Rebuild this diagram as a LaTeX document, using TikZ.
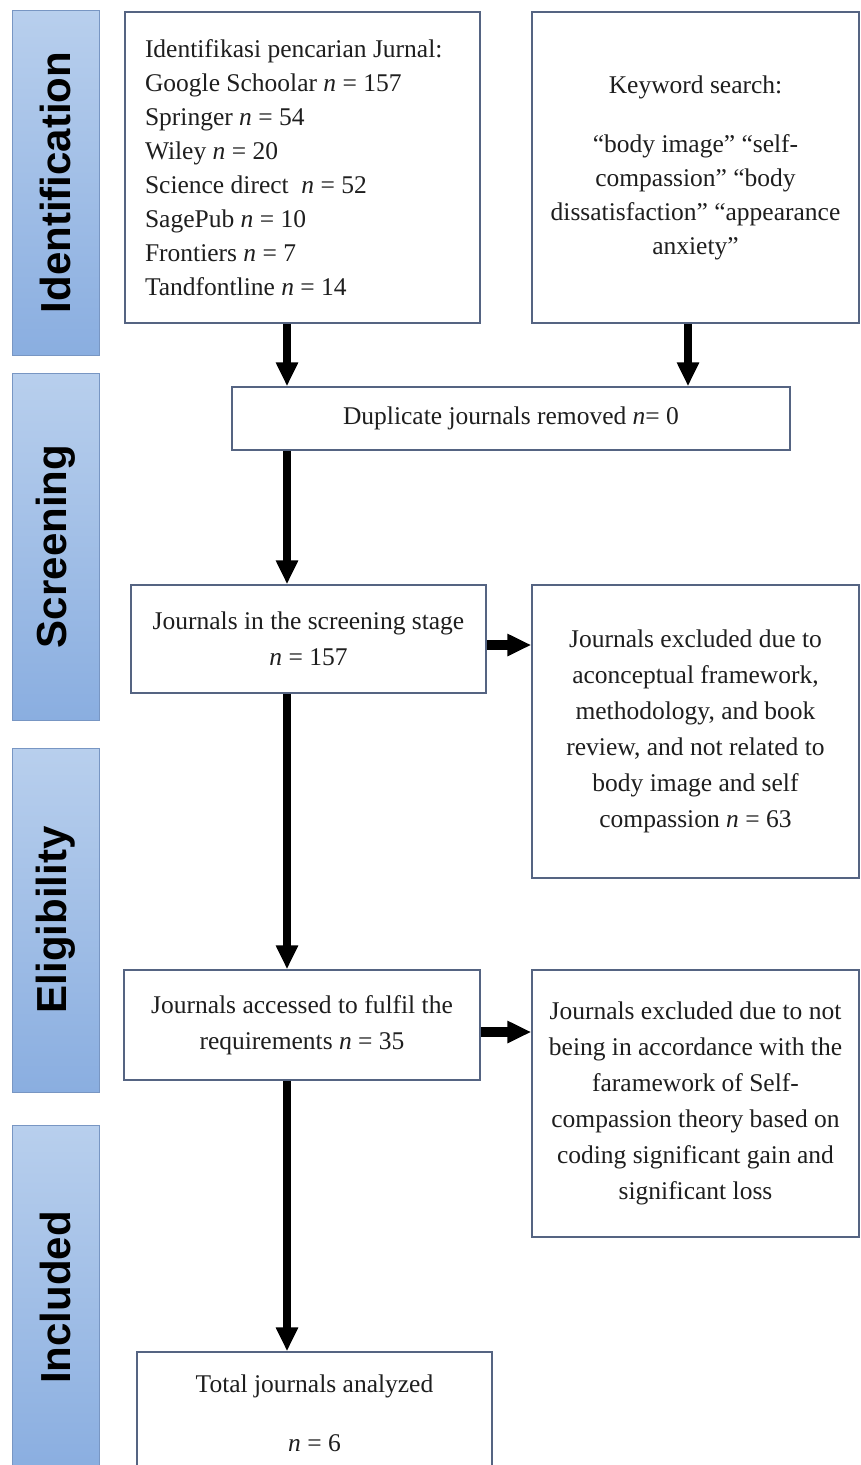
\documentclass[tikz,border=0pt]{standalone}
\usepackage{fontspec}
\setmainfont{Liberation Serif}
\newfontfamily\barfont{Liberation Sans}
\usetikzlibrary{positioning, arrows.meta}
\definecolor{prisline}{RGB}{85,100,130}
\definecolor{bartop}{RGB}{184,207,237}
\definecolor{barbot}{RGB}{138,174,224}
\definecolor{barline}{RGB}{120,150,195}
\definecolor{txtgrey}{RGB}{30,30,30}
\tikzset{
    phase/.style={rectangle, rotate=90, draw=barline, line width=0.8pt, top color=bartop, bottom color=barbot, minimum width=345pt, minimum height=87pt, inner sep=0pt, font=\barfont\bfseries\fontsize{42}{48}\selectfont, text=black},
    box/.style={rectangle, draw=prisline, line width=1.5pt, fill=white, align=center, inner sep=0pt, font=\fontsize{25.5}{36}\selectfont, text=txtgrey},
    arr/.style={-{Triangle[length=24pt, width=21pt]}, line width=8pt, color=black}
}
\begin{document}
\begin{tikzpicture}[x=1pt, y=-1pt]
        \clip (0,0) rectangle (861,1465);
        \fill[white] (0,0) rectangle (861,1465);

        % Phase bars
        \node[phase] (idbar) at (55.5,182.5) {Identification};
        \node[phase, minimum width=347pt] (scrbar) at (55.5,546.5) {Screening};
        \node[phase, minimum width=344pt] (elibar) at (55.5,920) {Eligibility};
        \node[phase] (incbar) at (55.5,1297.5) {Included};

        % Identification
        \node[box, align=flush left, text width=315pt, inner xsep=20pt, minimum height=311pt, font=\fontsize{25.5}{34}\selectfont] (ident) at (302.5,167.5) {Identifikasi pencarian Jurnal:\\Google Schoolar \textit{n} = 157\\Springer \textit{n} = 54\\Wiley \textit{n} = 20\\Science direct~ \textit{n} = 52\\SagePub \textit{n} = 10\\Frontiers \textit{n} = 7\\Tandfontline \textit{n} = 14};
        \node[box, minimum width=327pt, minimum height=311pt, font=\fontsize{25.5}{34}\selectfont] (keyw) at (695.5,167.5) {Keyword search:\\[25pt]“body image” “self-\\compassion” “body\\dissatisfaction” “appearance\\anxiety”};

        % Screening
        \node[box, minimum width=558pt, minimum height=63pt] (dup) at (511,418.5) {Duplicate journals removed \textit{n}= 0};
        \node[box, minimum width=355pt, minimum height=108pt] (screen) at (308.5,639) {Journals in the screening stage\\\textit{n} = 157};
        \node[box, minimum width=327pt, minimum height=293pt] (excla) at (695.5,731.5) {Journals excluded due to\\aconceptual framework,\\methodology, and book\\review, and not related to\\body image and self\\compassion \textit{n} = 63};

        % Eligibility
        \node[box, minimum width=356pt, minimum height=110pt] (access) at (302,1025) {Journals accessed to fulfil the\\requirements \textit{n} = 35};
        \node[box, minimum width=327pt, minimum height=267pt] (exclb) at (695.5,1103.5) {Journals excluded due to not\\being in accordance with the\\faramework of Self-\\compassion theory based on\\coding significant gain and\\significant loss};

        % Included
        \node[box, minimum width=355pt, minimum height=122pt] (total) at (314.5,1413) {Total journals analyzed\\[23pt]\textit{n} = 6};

        % Arrows
        \coordinate (lspine) at (287,0);
        \coordinate (rspine) at (688,0);
        \draw[arr] (ident.south -| lspine) -- (dup.north -| lspine);
        \draw[arr] (keyw.south -| rspine) -- (dup.north -| rspine);
        \draw[arr] (dup.south -| lspine) -- (screen.north -| lspine);
        \draw[arr] (screen.south -| lspine) -- (access.north -| lspine);
        \draw[arr] (access.south -| lspine) -- (total.north -| lspine);
        \draw[arr, line width=10pt] ([yshift=-6pt]screen.east) -- ([yshift=-6pt]screen.east -| excla.west);
        \draw[arr, line width=10pt] ([yshift=-7pt]access.east) -- ([yshift=-7pt]access.east -| exclb.west);
    \end{tikzpicture}
\end{document}
